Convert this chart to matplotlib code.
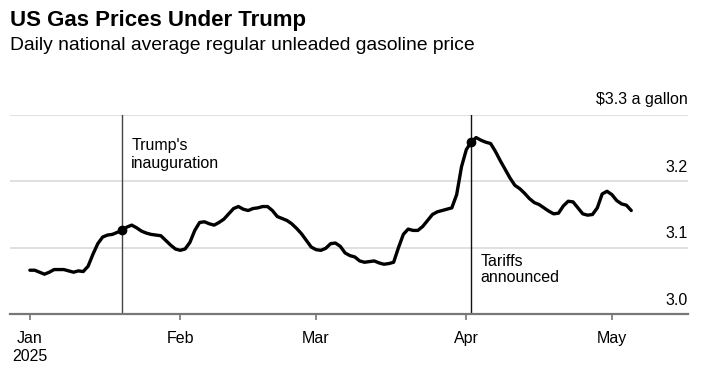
import matplotlib
matplotlib.use("Agg")
import matplotlib.pyplot as plt
import pandas as pd

plt.rcParams['font.family'] = ['Liberation Sans', 'DejaVu Sans']

start_date = "2025-01-01"
prices = [
    3.066, 3.066, 3.063, 3.060, 3.063, 3.067, 3.067, 3.067, 3.065, 3.063,
    3.065, 3.064, 3.072, 3.090, 3.106, 3.116, 3.119, 3.120, 3.123, 3.126,
    3.131, 3.134, 3.130, 3.125, 3.122, 3.120, 3.119, 3.118, 3.111, 3.104,
    3.098, 3.096, 3.098, 3.108, 3.126, 3.138, 3.139, 3.136, 3.134, 3.138,
    3.143, 3.151, 3.159, 3.162, 3.158, 3.156, 3.159, 3.160, 3.162, 3.162,
    3.156, 3.147, 3.144, 3.141, 3.136, 3.129, 3.121, 3.111, 3.101, 3.097,
    3.096, 3.099, 3.106, 3.107, 3.102, 3.092, 3.088, 3.086, 3.080, 3.078,
    3.079, 3.080, 3.077, 3.075, 3.076, 3.078, 3.100, 3.120, 3.128, 3.126,
    3.126, 3.132, 3.141, 3.150, 3.154, 3.156, 3.158, 3.160, 3.180, 3.222,
    3.248, 3.259, 3.266, 3.262, 3.259, 3.257, 3.245, 3.231, 3.218, 3.205,
    3.194, 3.189, 3.182, 3.174, 3.168, 3.165, 3.160, 3.155, 3.151, 3.152,
    3.163, 3.170, 3.169, 3.160, 3.151, 3.149, 3.150, 3.160, 3.181, 3.185,
    3.180, 3.171, 3.166, 3.164, 3.156,
]
events = ["2025-01-20", "2025-04-02"]
event_labels = ["Trump's\ninauguration", "Tariffs\nannounced"]
month_ticks = ["2025-01-01", "2025-02-01", "2025-03-01", "2025-04-01", "2025-05-01"]
month_labels = ["Jan\n2025", "Feb", "Mar", "Apr", "May"]
y_ticks = [3.0, 3.1, 3.2, 3.3]
y_labels = ["3.0", "3.1", "3.2", "$3.3 a gallon"]

dates = pd.date_range(start_date, periods=len(prices), freq="D")
s = pd.Series(prices, index=dates)

fig = plt.figure(figsize=(7.04, 3.74), dpi=100)
ax = fig.add_axes([10/704, 1-314/374, 678/704, 199/374])

x0 = pd.Timestamp(start_date)
ax.set_xlim(x0 - pd.Timedelta(days=4.1), x0 + pd.Timedelta(days=135.7))
ax.set_ylim(3.0, 3.3)

for yv in y_ticks[1:]:
    ax.axhline(yv, color="#dddddd", lw=1.3, zorder=1)
ax.axhline(3.0, color="#777777", lw=1.6, zorder=3, clip_on=False)

for i, (ev, lab) in enumerate(zip(events, event_labels)):
    t = pd.Timestamp(ev)
    ax.axvline(t, color="#444444" if i == 0 else "#111111", lw=1.0, zorder=2)

ax.plot(s.index, s.values, color="black", lw=2.4, zorder=4, solid_capstyle="round", solid_joinstyle="round")
for ev in events:
    t = pd.Timestamp(ev)
    ax.plot([t], [s[t]], "o", color="black", ms=6, zorder=5)

ax.text(pd.Timestamp(events[0]) + pd.Timedelta(days=1.9), 3.265, event_labels[0],
        fontsize=11.5, va="top", ha="left", linespacing=1.2)
ax.text(pd.Timestamp(events[1]) + pd.Timedelta(days=1.9), 3.091, event_labels[1],
        fontsize=11.5, va="top", ha="left", linespacing=1.1)

for yv, lab in zip(y_ticks, y_labels):
    ax.annotate(lab, xy=(1, yv), xycoords=("axes fraction", "data"),
                xytext=(0, 4.5 if yv < 3.3 else 5.5), textcoords="offset points", ha="right", va="bottom",
                fontsize=11.5, annotation_clip=False)

ax.set_xticks([pd.Timestamp(m) for m in month_ticks])
ax.set_xticklabels(month_labels, fontsize=11.5, linespacing=1.25)
ax.tick_params(axis="x", length=4, width=1.2, color="#777777", pad=8)
ax.set_yticks([])
for sp in ax.spines.values():
    sp.set_visible(False)

fig.text(10/704, 1-10/374, "US Gas Prices Under Trump", fontsize=16, fontweight="bold", va="top", ha="left")
fig.text(10/704, 1-37/374, "Daily national average regular unleaded gasoline price", fontsize=13.9, va="top", ha="left")

fig.savefig("out.png", dpi=100)
